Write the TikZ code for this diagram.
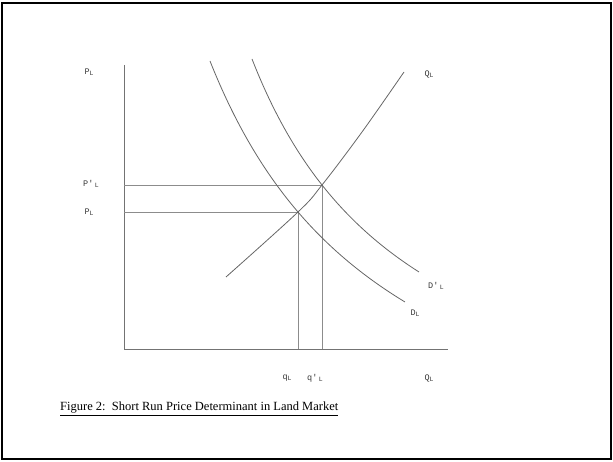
\documentclass[tikz,border=0pt]{standalone}
\usepackage{fontspec}
\setmainfont{Liberation Serif}
\newfontfamily\labfont{Liberation Mono}
\usetikzlibrary{positioning}

\newcommand{\subL}{\raisebox{-0.3ex}{\fontsize{6.5}{7}\selectfont L}}

\begin{document}
\begin{tikzpicture}[x=1pt, y=-1pt,
        axis/.style={draw=black!55, line width=0.9pt},
        curve/.style={draw=black!60, line width=0.8pt},
        guide/.style={draw=black!45, line width=0.8pt},
        lab/.style={font=\labfont\fontsize{8.5}{9}\selectfont, text=black!80, inner sep=1pt},
    ]
        \useasboundingbox (0,0) rectangle (613,462);

        % Frame
        \draw[line width=2.5pt] (2,3) rectangle (611,459);

        % Axes
        \coordinate (O) at (124,349);
        \coordinate (ytop) at (124,65);
        \coordinate (xend) at (448,349);
        \draw[axis] (ytop) -- (O) -- (xend);

        % Equilibrium points
        \coordinate (e1) at (298,212);
        \coordinate (e2) at (322,185);

        % Guide lines
        \draw[guide] (O |- e1) -- (e1) -- (e1 |- O);
        \draw[guide] (O |- e2) -- (e2) -- (e2 |- O);

        % Supply curve
        \draw[curve] plot[smooth, tension=0.6] coordinates {(226,277) (e1) (e2) (362,132) (404,72)};

        % Demand curves
        \draw[curve, domain=86:281, samples=80, variable=\q]
            plot ({124+\q}, {349-(886.31/((\q+101.5)/100)-184.7)});
        \draw[curve, domain=128:295, samples=80, variable=\q]
            plot ({124+\q}, {349-(704.08/((\q+37.86)/100)-134.5)});

        % Labels
        \node[lab] (pl)   at (89,72)  {P\subL};
        \node[lab] (ppl)  at (91,184) {P'\,\subL};
        \node[lab] (pl2)  at (89,212) {P\subL};
        \node[lab] (ql)   at (429,74) {Q\subL};
        \node[lab] (dpl)  at (436,286) {D'\,\subL};
        \node[lab] (dl)   at (415,313) {D\subL};
        \node[lab] (qs)   at (287,378) {q\subL};
        \node[lab] (qps)  at (315,378) {q'\,\subL};
        \node[lab] (qax)  at (429,378) {Q\subL};

        % Caption
        \node[anchor=west, font=\fontsize{12.5}{14}\selectfont, inner sep=0pt] (cap) at (60,409)
            {\underline{Figure 2:\ \ Short Run Price Determinant in Land Market}};

    \end{tikzpicture}
\end{document}
